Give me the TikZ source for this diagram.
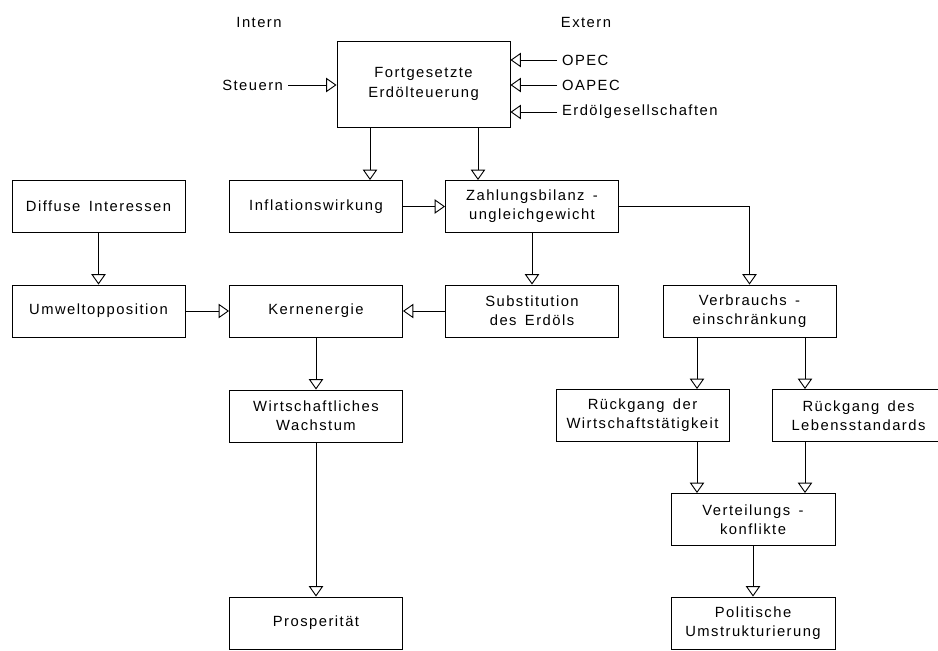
\documentclass[tikz,border=0pt]{standalone}
\usepackage{fontspec}
\setmainfont{Liberation Sans}[LetterSpace=10, WordSpace=1.5]
\usetikzlibrary{arrows.meta}

\tikzset{
  box/.style={draw, line width=.65pt, minimum width=4.325cm, minimum height=1.3cm, align=center, inner sep=0pt},
  arr/.style={line width=.65pt, -{Triangle[open, width=.36cm, length=.26cm]}},
  lbl/.style={inner sep=.12cm}
}

\begin{document}
\begin{tikzpicture}[x=.025cm, y=-.025cm, font=\fontsize{10.5}{13.6}\selectfont]
      \clip (0,0) rectangle (938,650);
      \node (intern) at (259,22) {Intern};
      \node (extern) at (586,22) {Extern};
      \node[box, minimum height=2.15cm] (fort) at (423.5,84) {Fortgesetzte\\Erdölteuerung};
      \node[lbl, anchor=east] (steuern) at (288,85) {Steuern};
      \node[lbl, anchor=west] (opec) at (557,60) {OPEC};
      \node[lbl, anchor=west] (oapec) at (557,85) {OAPEC};
      \node[lbl, anchor=west] (gesell) at (557,112) {Erdölgesellschaften};
      \draw[arr] (steuern) -- (steuern -| fort.west);
      \draw[arr] (opec) -- (opec -| fort.east);
      \draw[arr] (oapec) -- (oapec -| fort.east);
      \draw[arr] (gesell) -- (gesell -| fort.east);

      \node[box] (diffuse) at (98.5,206.5) {Diffuse Interessen};
      \node[box] (inflation) at (316,206.5) {Inflationswirkung};
      \node[box] (zahlung) at (532,206.5) {Zahlungsbilanz -\\ungleichgewicht};
      \draw[arr] (370,0 |- fort.south) -- (370,0 |- inflation.north);
      \draw[arr] (478,0 |- fort.south) -- (478,0 |- zahlung.north);
      \draw[arr] (inflation) -- (zahlung);

      \node[box] (umwelt) at (98.5,311) {Umweltopposition};
      \node[box] (kern) at (316,311) {Kernenergie};
      \node[box] (subst) at (532,311) {Substitution\\des Erdöls};
      \node[box] (verbrauch) at (749.5,311) {Verbrauchs -\\einschränkung};
      \draw[arr] (diffuse) -- (umwelt);
      \draw[arr] (umwelt) -- (kern);
      \draw[arr] (subst) -- (kern);
      \draw[arr] (zahlung) -- (subst);
      \draw[arr] (zahlung.east) -| (verbrauch.north);

      \node[box] (wachstum) at (316,416) {Wirtschaftliches\\Wachstum};
      \node[box] (rueckwirt) at (642.5,415.5) {Rückgang der\\Wirtschaftstätigkeit};
      \node[box] (rueckleb) at (858.5,415.5) {Rückgang des\\Lebensstandards};
      \draw[arr] (kern) -- (wachstum);
      \draw[arr] (697,0 |- verbrauch.south) -- (697,0 |- rueckwirt.north);
      \draw[arr] (805,0 |- verbrauch.south) -- (805,0 |- rueckleb.north);

      \node[box, minimum width=4.1cm] (verteilung) at (753,519.5) {Verteilungs -\\konflikte};
      \node[box, minimum width=4.1cm] (politik) at (753,623) {Politische\\Umstrukturierung};
      \node[box] (prosp) at (316,623) {Prosperität};
      \draw[arr] (697,0 |- rueckwirt.south) -- (697,0 |- verteilung.north);
      \draw[arr] (805,0 |- rueckleb.south) -- (805,0 |- verteilung.north);
      \draw[arr] (verteilung) -- (politik);
      \draw[arr] (wachstum) -- (prosp);
    \end{tikzpicture}
\end{document}
